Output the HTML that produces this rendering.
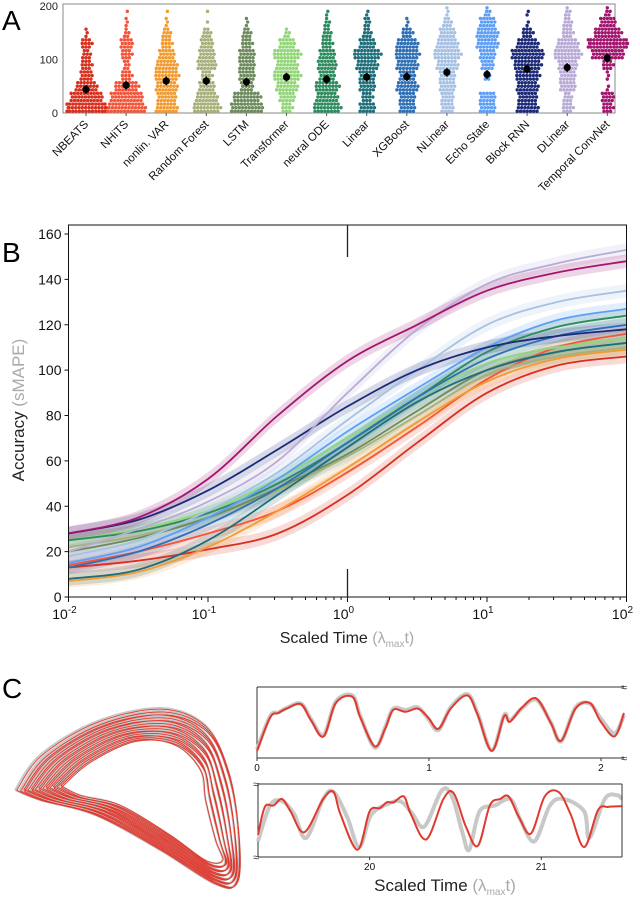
<!DOCTYPE html>
<html><head><meta charset="utf-8"><style>
html,body{margin:0;padding:0;background:#fff;}
svg{display:block;font-family:"Liberation Sans",sans-serif;}
</style></head><body>
<svg id="fig" width="640" height="898" viewBox="0 0 640 898">
<text x="2" y="30" font-size="28">A</text>
<text x="2" y="262" font-size="28">B</text>
<text x="2" y="698" font-size="28">C</text>
<g id="pa"></g>
<g id="pb"></g>
<g id="pc"></g>
</svg>
<script>
// ---------- Panel A data ----------
const models = ["NBEATS","NHiTS","nonlin. VAR","Random Forest","LSTM","Transformer","neural ODE","Linear","XGBoost","NLinear","Echo State","Block RNN","DLinear","Temporal ConvNet"];
const modelColors = ["#d7301f","#f4553a","#f29b30","#a6b07a","#6e8b5e","#93d67a","#2e8b5e","#1f6f7a","#2f6fb5","#a7c1e3","#5e9ff5","#1c2a78","#b8abd6","#a3166f"];
const modelMeans = [44,52,60,60,58,67,63,67,68,76,72,82,85,103];
const binCounts = [
 [40,30,20,12,10,8,10,3,0,0],
 [35,30,22,10,6,10,12,5,3,1],
 [20,18,20,22,20,15,10,8,3,1],
 [25,20,15,10,18,15,12,8,1,1],
 [30,25,12,15,15,15,10,8,3,0],
 [10,15,20,25,20,25,15,5,0,0],
 [25,20,22,15,18,15,10,8,5,2],
 [15,10,15,15,20,25,15,8,6,2],
 [15,15,20,15,20,22,20,10,3,0],
 [12,12,15,15,20,25,20,15,8,3],
 [15,15,0,5,12,15,20,20,15,5],
 [20,18,20,22,25,30,20,10,2,2],
 [10,8,15,15,18,25,20,10,8,5],
 [10,12,2,3,10,30,40,25,15,5]
];
const aTicks = [0,100,200];

// ---------- Panel B data ----------
const bTimes = [0.01,0.0316,0.1,0.316,1,3.16,10,31.6,100];
const bSeries = {
 "NBEATS":[13,16,21,28,45,68,90,102,106],
 "NHiTS":[14,20,28,38,55,75,96,110,116],
 "nonlin. VAR":[7,11,22,38,57,77,95,105,109],
 "Random Forest":[22,27,35,47,62,80,98,106,110],
 "LSTM":[20,26,35,48,63,82,100,108,112],
 "Transformer":[25,30,38,52,70,88,103,110,114],
 "neural ODE":[25,29,37,50,68,88,108,119,124],
 "Linear":[8,12,25,45,66,86,100,108,112],
 "XGBoost":[13,20,32,48,68,88,105,115,120],
 "NLinear":[18,25,38,55,78,100,120,130,135],
 "Echo State":[15,22,35,52,73,92,110,122,127],
 "Block RNN":[28,34,47,65,84,100,110,115,118],
 "DLinear":[20,30,42,60,90,118,138,147,153],
 "Temporal ConvNet":[28,35,52,80,104,120,135,143,148]
};
const bYTicks = [0,20,40,60,80,100,120,140,160];
const bXTicks = [-2,-1,0,1,2];

// ---------- Panel C data ----------
const c1T = [0,0.076,0.124,0.172,0.255,0.315,0.387,0.458,0.554,0.601,0.685,0.745,0.792,0.864,0.936,0.995,1.055,1.126,1.222,1.282,1.365,1.437,1.47,1.542,1.625,1.709,1.768,1.852,1.936,1.995,2.079,2.134];
const c1Red = [0.05,0.58,0.65,0.72,0.79,0.53,0.28,0.81,0.91,0.58,0.12,0.40,0.70,0.67,0.72,0.58,0.40,0.72,0.93,0.63,0.05,0.60,0.51,0.74,0.88,0.49,0.21,0.72,0.81,0.53,0.28,0.65];
const c1Gray = [0.07,0.60,0.66,0.73,0.80,0.55,0.30,0.83,0.93,0.60,0.10,0.42,0.72,0.70,0.74,0.56,0.38,0.74,0.95,0.65,0.06,0.62,0.53,0.73,0.86,0.50,0.20,0.74,0.80,0.58,0.33,0.62];
const c2TRed = [19.35,19.39,19.44,19.49,19.54,19.62,19.73,19.79,19.83,19.93,20.0,20.06,20.10,20.14,20.20,20.24,20.33,20.43,20.49,20.56,20.63,20.70,20.76,20.81,20.87,20.94,21.02,21.10,21.17,21.25,21.33,21.39,21.47];
const c2Red = [0.28,0.71,0.73,0.83,0.64,0.32,0.83,0.94,0.60,0.05,0.64,0.69,0.78,0.78,0.87,0.60,0.21,0.83,0.92,0.41,0.11,0.73,0.83,0.87,0.55,0.30,0.87,0.94,0.60,0.09,0.66,0.71,0.72];
const c2TGray = [19.35,19.42,19.49,19.56,19.63,19.73,19.79,19.87,19.94,20.01,20.13,20.19,20.25,20.32,20.42,20.48,20.54,20.58,20.64,20.73,20.82,20.88,20.96,21.05,21.13,21.25,21.28,21.37,21.44,21.47];
const c2Gray = [0.18,0.73,0.80,0.60,0.23,0.83,0.94,0.55,0.09,0.59,0.78,0.78,0.60,0.41,0.96,0.87,0.32,0.05,0.64,0.73,0.83,0.50,0.18,0.73,0.83,0.64,0.23,0.83,0.89,0.83];
const loopScalesGray = [1.0,0.97,0.94,0.91,0.88,0.85,0.82,0.79,0.76,0.73,0.70,0.67,0.64,0.61,0.58,0.55,0.52,0.49,0.46];
const loopScalesRed = [0.99,0.96,0.93,0.90,0.87,0.84,0.81,0.78,0.75,0.72,0.69,0.66,0.63,0.60,0.57,0.54,0.51,0.48,0.45];

const NS="http://www.w3.org/2000/svg";
function mk(parent,tag,attrs){const e=document.createElementNS(NS,tag);for(const k in attrs)e.setAttribute(k,attrs[k]);parent.appendChild(e);return e;}
function smooth(pts){let d="M"+pts[0][0].toFixed(1)+","+pts[0][1].toFixed(1);
 for(let i=0;i<pts.length-1;i++){const p0=pts[Math.max(0,i-1)],p1=pts[i],p2=pts[i+1],p3=pts[Math.min(pts.length-1,i+2)];
  const c1=[p1[0]+(p2[0]-p0[0])/6,p1[1]+(p2[1]-p0[1])/6],c2=[p2[0]-(p3[0]-p1[0])/6,p2[1]-(p3[1]-p1[1])/6];
  d+="C"+c1[0].toFixed(1)+","+c1[1].toFixed(1)+" "+c2[0].toFixed(1)+","+c2[1].toFixed(1)+" "+p2[0].toFixed(1)+","+p2[1].toFixed(1);}
 return d;}

// ---------- Panel A ----------
(function(){
 const g=document.getElementById('pa');
 const L=63,R=615,T=6,B=113;
 const ya=v=>B-(v/200)*(B-T);
 const xa=i=>86+i*40.1;
 mk(g,'rect',{x:L,y:T-2,width:R-L,height:B-T+2,fill:'none',stroke:'#888','stroke-width':1});
 aTicks.forEach(t=>{const tx=mk(g,'text',{x:L-5,y:ya(t)+4,'font-size':11,'text-anchor':'end',fill:'#222'});tx.textContent=t;
  });
 models.forEach((m,i)=>{
  const cx=xa(i);
  const grp=mk(g,'g',{});
  
  
  binCounts[i].forEach((c,b)=>{
   const rows=3;let left=c;
   for(let r=0;r<rows;r++){const n=Math.round(left/(rows-r));left-=n;
    const v=b*20+(r+0.5)*(20/rows);const y=ya(v);
    for(let k=0;k<n;k++){let off=(k-(n-1)/2)*3.3;if(Math.abs(off)>19)off=Math.sign(off)*19;
     const d=mk(grp,'circle',{cx:cx+off+(r%2)*1.2,cy:y,r:1.7,fill:modelColors[i]});
     }}
  });
  mk(g,'line',{x1:cx,x2:cx,y1:ya(modelMeans[i]-8),y2:ya(modelMeans[i]+8),stroke:'#000','stroke-width':1.6});
  const mc=mk(g,'circle',{cx:cx,cy:ya(modelMeans[i]),r:3.6,fill:'#000'});
  
  mk(g,'line',{x1:cx,x2:cx,y1:B,y2:B+3,stroke:'#555'});
  const t=mk(g,'text',{x:0,y:0,'font-size':11.5,'text-anchor':'end',fill:'#111',transform:`translate(${cx+3},${B+12}) rotate(-45)`});
  t.textContent=m;
 });
})();

// ---------- Panel B ----------
(function(){
 const g=document.getElementById('pb');
 const L=68.5,R=626.5,T=225,B=597,Y0=597,Y160=234;
 const xa=t=>L+(Math.log10(t)+2)/4*(R-L);
 const ya=v=>Y0-v/160*(Y0-Y160);
 const keys=Object.keys(bSeries);
 keys.forEach((k,i)=>{const vals=bSeries[k];
  const up=bTimes.map((t,j)=>[xa(t),ya(vals[j]+3)]),dn=bTimes.map((t,j)=>[xa(t),ya(vals[j]-3)]).reverse();
  const band=mk(g,'path',{d:smooth(up)+smooth(dn).replace('M','L')+'Z',fill:modelColors[i],'fill-opacity':0.18,stroke:'none'});
  
 });
 keys.forEach((k,i)=>{const vals=bSeries[k];
  const ln=mk(g,'path',{d:smooth(bTimes.map((t,j)=>[xa(t),ya(vals[j])])),fill:'none',stroke:modelColors[i],'stroke-width':1.8});
  
 });
 mk(g,'rect',{x:L,y:T,width:R-L,height:B-T,fill:'none',stroke:'#111','stroke-width':1});
 mk(g,'line',{x1:xa(1),x2:xa(1),y1:T,y2:T+32,stroke:'#222','stroke-width':1.3});
 mk(g,'line',{x1:xa(1),x2:xa(1),y1:B-28,y2:B,stroke:'#222','stroke-width':1.3});
 bYTicks.forEach(v=>{mk(g,'line',{x1:L-4,x2:L,y1:ya(v),y2:ya(v),stroke:'#111'});
  const t=mk(g,'text',{x:L-7,y:ya(v)+5,'font-size':14,'text-anchor':'end',fill:'#111'});t.textContent=v;
  });
 bXTicks.forEach(e=>{const x=xa(Math.pow(10,e));mk(g,'line',{x1:x,x2:x,y1:B,y2:B+5,stroke:'#111'});
  const t=mk(g,'text',{x:x-4,y:B+22,'font-size':14,'text-anchor':'middle',fill:'#111'});
  t.innerHTML='10<tspan dy="-6" font-size="10">'+e+'</tspan>';
  
  if(e<2)for(let m=2;m<10;m++){const xm=xa(m*Math.pow(10,e));mk(g,'line',{x1:xm,x2:xm,y1:B,y2:B+3,stroke:'#111'});}});
 const xt=mk(g,'text',{x:347,y:643,'font-size':16,'text-anchor':'middle',fill:'#222'});
 xt.innerHTML='Scaled Time <tspan fill="#aaa">(λ<tspan font-size="10" dy="4">max</tspan><tspan dy="-4">t)</tspan></tspan>';
 
 const yt=mk(g,'text',{x:0,y:0,'font-size':17,'text-anchor':'middle',fill:'#222',transform:'translate(24,410) rotate(-90)'});
 yt.innerHTML='Accuracy <tspan fill="#aaa">(sMAPE)</tspan>';
 
})();

// ---------- Panel C ----------
(function(){
 const g=document.getElementById('pc');
 // attractor: outer loop shape, loops shrink toward an inner hole near (200,790)
 const outer=[[15,790],[40,755],[95,722],[160,708],[205,725],[228,770],[238,830],[236,882],[215,884],[160,850],[95,815],[40,800],[15,790]];
 const inner=[[60,785],[90,760],[135,740],[175,745],[200,770],[205,800],[215,840],[222,860],[205,860],[170,835],[120,805],[80,795],[60,785]];
 function loop(s,col,w,shift){const pts=outer.map((p,j)=>{const q=inner[j];const f=(1-s)/0.55;
   return [p[0]+(q[0]-p[0])*f+shift,p[1]+(q[1]-p[1])*f+shift*0.6];});
  const e=mk(g,'path',{d:smooth(pts),fill:'none',stroke:col,'stroke-width':w});
  }
 loopScalesGray.forEach((s,i)=>loop(s,'#c8c8c8',2,(i%3)*1.5));
 loopScalesRed.forEach((s,i)=>loop(s,'#e03a2f',0.9,(i%3)*1.5+0.8));
 // series boxes
 function box(x0,x1,y0,y1,tmin,tmax,sets,ticks,name){
  const xa=t=>x0+(t-tmin)/(tmax-tmin)*(x1-x0);const ya=v=>y1-4-v*(y1-y0-8);
  const bg=mk(g,'g',{});
  mk(bg,'line',{x1:x0,x2:x1,y1:y0,y2:y0,stroke:'#333'});mk(bg,'line',{x1:x0,x2:x1,y1:y1,y2:y1,stroke:'#333'});
  mk(bg,'line',{x1:x0,x2:x0,y1:y0,y2:y1,stroke:'#333'});
  sets.forEach(s=>{const p=mk(bg,'path',{d:smooth(s[0].map((t,i)=>[xa(t),ya(s[1][i])])),fill:'none',stroke:s[2],'stroke-width':s[3]});
   });
  ticks.forEach(t=>{mk(bg,'line',{x1:xa(t),x2:xa(t),y1:y1,y2:y1+3,stroke:'#333'});
   const tx=mk(bg,'text',{x:xa(t),y:y1+13,'font-size':10,'text-anchor':'middle',fill:'#111'});tx.textContent=t;
   });
 }
 box(257,624,687,758,0,2.134,[[c1T,c1Gray,'#c8c8c8',4,'truth-series-1'],[c1T,c1Red,'#e03a2f',2,'forecast-series-1']],[0,1,2],'series-box-early');
 box(258,622,784,857,19.35,21.47,[[c2TGray,c2Gray,'#c8c8c8',4,'truth-series-2'],[c2TRed,c2Red,'#e03a2f',2,'forecast-series-2']],[20,21],'series-box-late');
 mk(g,'line',{x1:622,x2:622,y1:784,y2:857,stroke:'#333'});
 [[624,687],[624,758],[256,784],[256,857]].forEach(p=>{const t=mk(g,'text',{x:p[0]-3,y:p[1]+4,'font-size':11,fill:'#333'});t.textContent='≈';
  });
 const xt=mk(g,'text',{x:445,y:891,'font-size':17,'text-anchor':'middle',fill:'#222'});
 xt.innerHTML='Scaled Time <tspan fill="#aaa">(λ<tspan font-size="10" dy="4">max</tspan><tspan dy="-4">t)</tspan></tspan>';
 
})();
</script>
</body></html>
